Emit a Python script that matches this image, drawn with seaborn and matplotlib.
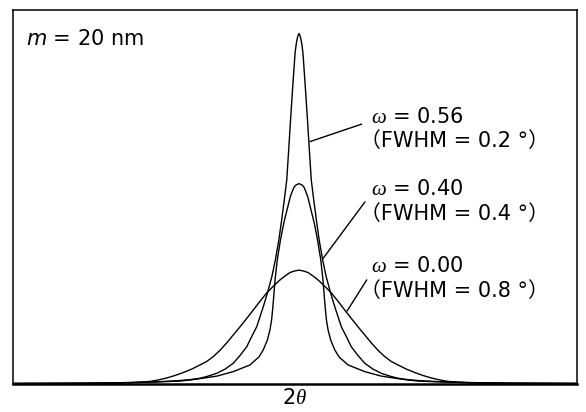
import numpy as np
import pandas as pd
import matplotlib
matplotlib.use("Agg")
import matplotlib.pyplot as plt
import seaborn as sns

# Half-profiles: offset from the peak centre (deg, 2theta)
# and relative intensity (tallest peak = 100). Profiles are symmetric.
offset_w056 = [0.000, 0.005, 0.012, 0.019, 0.027, 0.043, 0.058, 0.072, 0.084, 0.101,
               0.119, 0.138, 0.162, 0.185, 0.216, 0.245, 0.290, 0.329, 0.358, 0.404,
               0.450, 0.507, 0.564, 0.623, 0.678, 0.747, 0.815, 0.918, 1.043, 1.226,
               1.500, 1.959]
inten_w056 = [100.0, 99.6, 98.6, 97.0, 94.4, 84.8, 75.3, 65.9, 58.1, 52.4,
              46.7, 41.0, 35.3, 30.7, 25.9, 21.9, 16.2, 13.0, 10.5, 8.0,
              5.8, 4.1, 2.9, 2.1, 1.5, 1.1, 0.86, 0.6, 0.4, 0.23,
              0.11, 0.03]

offset_w040 = [0.000, 0.021, 0.034, 0.048, 0.060, 0.082, 0.104, 0.127, 0.149, 0.164,
               0.175, 0.181, 0.188, 0.199, 0.217, 0.245, 0.274, 0.336, 0.450, 0.564,
               0.678, 0.747, 0.815, 1.021, 1.226, 1.500, 1.959]
inten_w040 = [57.1, 56.7, 56.1, 54.7, 53.3, 49.6, 45.9, 41.0, 35.3, 29.6,
              23.9, 21.0, 18.1, 15.3, 12.4, 9.6, 7.6, 5.3, 3.4, 2.1,
              1.4, 1.0, 0.7, 0.37, 0.14, 0.06, 0.0]

offset_w000 = [0.000, 0.034, 0.062, 0.096, 0.130, 0.178, 0.221, 0.267, 0.313, 0.358,
               0.404, 0.450, 0.495, 0.541, 0.587, 0.632, 0.678, 0.736, 0.795, 0.849,
               0.904, 0.966, 1.021, 1.123, 1.226, 1.363, 1.500, 1.959]
inten_w000 = [32.4, 32.1, 31.7, 30.7, 29.6, 27.7, 25.9, 23.5, 21.0, 18.6,
              16.2, 13.9, 11.6, 9.5, 7.7, 6.3, 5.3, 4.1, 3.1, 2.3,
              1.6, 1.0, 0.6, 0.31, 0.14, 0.06, 0.03, 0.0]

omega_labels = ["0.56", "0.40", "0.00"]
fwhm_labels = ["0.2", "0.4", "0.8"]

sns.set_style("white")
plt.rcParams["font.family"] = ["DejaVu Sans", "Noto Sans CJK JP"]
plt.rcParams["text.color"] = "black"
plt.rcParams["axes.labelcolor"] = "black"
plt.rcParams["mathtext.fontset"] = "custom"
plt.rcParams["mathtext.rm"] = "DejaVu Sans"
plt.rcParams["mathtext.it"] = "Liberation Serif:italic"
plt.rcParams["mathtext.bf"] = "DejaVu Sans:italic"

frames = []
for name, off, inten in [("0.56", offset_w056, inten_w056),
                         ("0.40", offset_w040, inten_w040),
                         ("0.00", offset_w000, inten_w000)]:
    off = np.asarray(off)
    inten = np.asarray(inten)
    x = np.concatenate([-off[::-1], off[1:]])
    y = np.concatenate([inten[::-1], inten[1:]])
    frames.append(pd.DataFrame({"two_theta": x, "intensity": y, "omega": name}))
df = pd.concat(frames, ignore_index=True)

fig = plt.figure(figsize=(5.86, 4.12), dpi=100)
ax = fig.add_axes([13 / 586, 28 / 412, 564 / 586, 374 / 412])

sns.lineplot(data=df, x="two_theta", y="intensity", units="omega", estimator=None,
             color="black", linewidth=1.0, ax=ax)

ax.set_xlim(-1.959, 1.904)
ax.set_ylim(-0.14, 106.7)
ax.set_xticks([])
ax.set_yticks([])
ax.set_ylabel("")
ax.set_xlabel(r"2$\theta$", fontsize=15, labelpad=3)
for side, sp in ax.spines.items():
    sp.set_visible(True)
    sp.set_color("black")
    sp.set_linewidth(1.8 if side == "bottom" else 1.1)

FS = 15
ax.text(0.023, 0.906, r"$\mathbf{m}$ = 20 nm", transform=ax.transAxes,
        fontsize=FS, va="baseline", ha="left")

# label blocks (omega line, FWHM line) and leader lines
omega_y = [74.5, 53.9, 31.9]
fwhm_y = [67.7, 46.7, 24.8]
lead_from = [(0.429, 74.1), (0.452, 51.9), (0.464, 29.6)]
lead_to = [(0.075, 69.1), (0.166, 35.8), (0.329, 20.7)]
for om, fw, yo, yf, p0, p1 in zip(omega_labels, fwhm_labels, omega_y, fwhm_y,
                                  lead_from, lead_to):
    ax.text(0.493, yo, r"$\omega$ = " + om, fontsize=FS, va="baseline", ha="left")
    ax.text(0.418, yf, "（FWHM = " + fw + " °）", fontsize=FS, va="baseline", ha="left")
    ax.annotate("", xy=p1, xytext=p0,
                arrowprops=dict(arrowstyle="-", color="black", lw=1.0,
                                shrinkA=0, shrinkB=0))

fig.savefig("out.png", dpi=100)
